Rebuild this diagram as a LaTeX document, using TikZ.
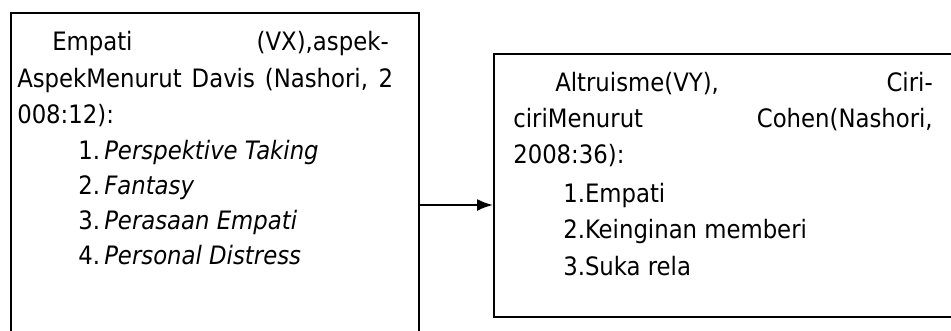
\documentclass[tikz,border=0pt]{standalone}
\usepackage{fontspec}
\setmainfont{DejaVu Sans Condensed}
\usetikzlibrary{arrows.meta}

\newcommand\boxfont{\fontsize{19}{23}\selectfont}

\begin{document}
\begin{tikzpicture}[x=0.75pt,y=-0.75pt,
    box/.style={draw,line width=1.4pt,rectangle,inner sep=0pt,anchor=north west},
    line/.style={anchor=base west,inner sep=0pt,font=\boxfont},
    lineend/.style={anchor=base east,inner sep=0pt,font=\boxfont}]
    \path[use as bounding box,clip] (0,0) rectangle (951,330);

    % the two boxes, both run out of the page
    \node[box,minimum width=306pt,minimum height=300pt] (BoxVX) at (10,12) {};
    \node[box,minimum width=600pt,minimum height=197.25pt] (BoxVY) at (493,53) {};

    \coordinate (ArrowLevel) at (0,205);
    \draw [line width=1.5pt,-{Latex[length=12pt,width=9pt]}] (BoxVX.east |- ArrowLevel)
        -- (BoxVY.west |- ArrowLevel);

    % variable X
    \node[line] (vx1) at (52,50) {Empati};
    \node[lineend] (vx1b) at (389,50) {(VX),aspek-};
    \node[line] (vx2) at (17,87) {\makebox[282pt][s]{AspekMenurut Davis (Nashori, 2}};
    \node[line] (vx3) at (17,123) {008:12):};
    \node[line] (vx4) at (78,159) {1.};
    \node[line] (vx4b) at (104,159) {\itshape Perspektive Taking};
    \node[line] (vx5) at (78,194) {2.};
    \node[line] (vx5b) at (104,194) {\itshape Fantasy};
    \node[line] (vx6) at (78,229) {3.};
    \node[line] (vx6b) at (104,229) {\itshape Perasaan Empati};
    \node[line] (vx7) at (78,264) {4.};
    \node[line] (vx7b) at (104,264) {\itshape Personal Distress};

    % variable Y
    \node[line] (vy1) at (555,91) {Altruisme(VY),};
    \node[lineend] (vy1b) at (933,91) {Ciri-};
    \node[line] (vy2) at (513,127) {ciriMenurut};
    \node[lineend] (vy2b) at (933,127) {Cohen(Nashori,};
    \node[line] (vy3) at (513,163) {2008:36):};
    \node[line] (vy4) at (563,202) {1.Empati};
    \node[line] (vy5) at (563,238) {2.Keinginan memberi};
    \node[line] (vy6) at (563,275) {3.Suka rela};
\end{tikzpicture}
\end{document}
